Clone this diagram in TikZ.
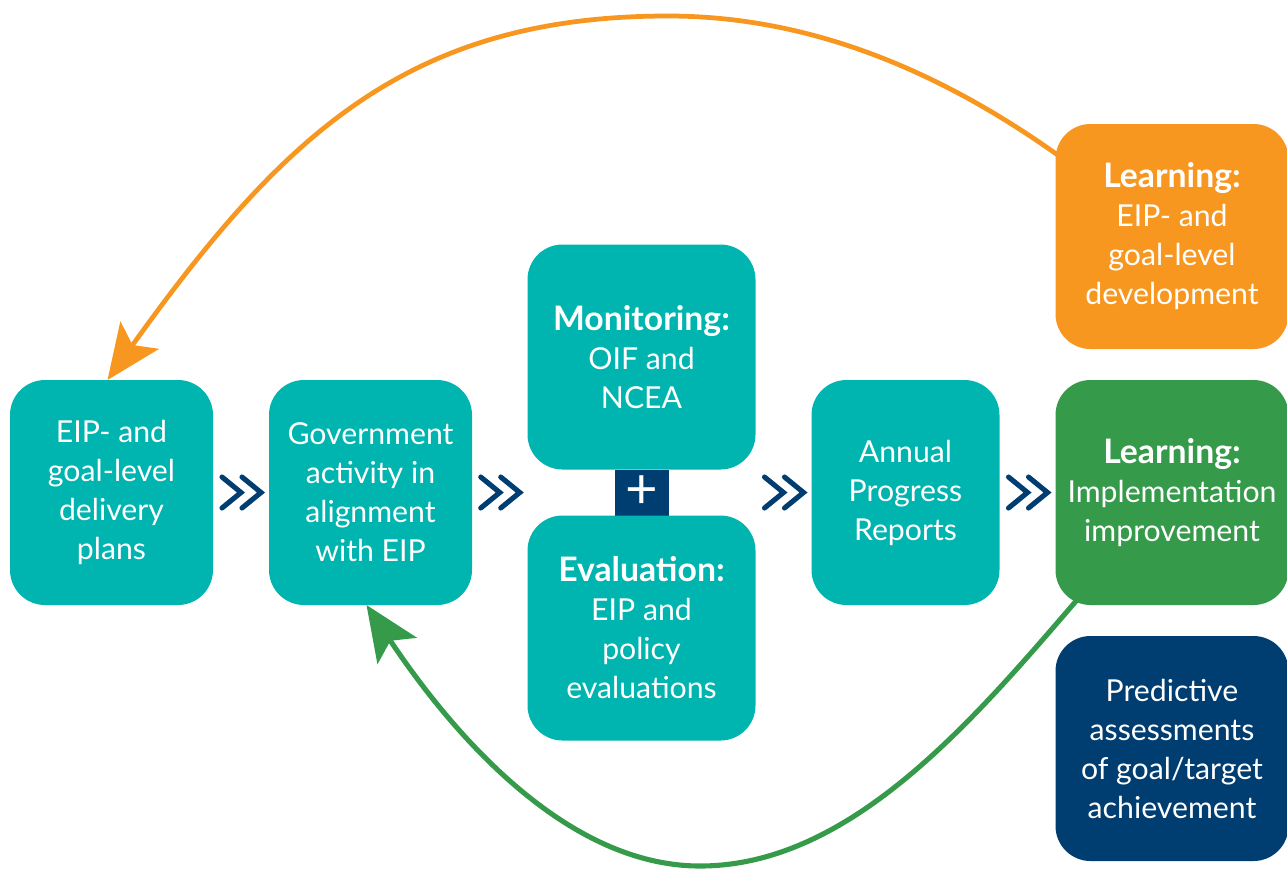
\documentclass[tikz,border=0pt]{standalone}
\usepackage{fontspec}
\setmainfont{Lato}
\usetikzlibrary{positioning,arrows.meta,calc,backgrounds}
\definecolor{eipteal}{RGB}{0,180,176}
\definecolor{eiporange}{RGB}{247,151,31}
\definecolor{eipgreen}{RGB}{53,155,74}
\definecolor{eipnavy}{RGB}{0,61,112}
\tikzset{
  chev/.style={draw=eipnavy, line width=1.45pt, line cap=round},
  dblchev/.pic={
    \draw[chev] (-0.19,0.155) -- (0,0) -- (-0.19,-0.155);
    \draw[chev] (0.01,0.155) -- (0.2,0) -- (0.01,-0.155);
  }
}
\newcommand{\hd}[1]{{\bfseries\fontsize{9.6}{11.1}\selectfont #1}}

\begin{document}
\begin{tikzpicture}[node distance=5.6mm and 5.6mm, every node/.style={font=\fontsize{8.6}{11.1}\selectfont, text=white}, box/.style={fill=eipteal, rounded corners=3.5mm, align=center, minimum height=22.5mm, minimum width=20.3mm, inner sep=0pt, outer sep=0pt}, plusbox/.style={fill=eipnavy, minimum width=5.4mm, minimum height=4.6mm, inner sep=0pt, outer sep=0pt, font=\fontsize{16}{16}\selectfont}, loopA/.style={draw=eiporange, line width=1.35pt, -{Stealth[length=5.5mm, width=4.7mm, inset=1.2mm]}}, loopB/.style={draw=eipgreen, line width=1.45pt, -{Stealth[length=5.5mm, width=4.7mm, inset=1.2mm]}}]
\useasboundingbox (0,0) rectangle (12.87,-8.68);
\node[box] (plans) at (1.115,-4.925) {EIP- and\\goal-level\\delivery\\plans};
\node[box, right=of plans] (gov) {Government\\activity in\\alignment\\with EIP};
\node[plusbox] (plus) at ([xshift=16.95mm]gov.east) {+};
\node[box, minimum width=22.8mm, above=0pt of plus] (mon) {\hd{Monitoring:}\\OIF and\\NCEA};
\node[box, minimum width=22.8mm, below=0pt of plus] (eval) {\hd{Evaluation:}\\EIP and\\policy\\evaluations};
\node[box, minimum width=18.8mm, anchor=west] (annual) at ([xshift=5.6mm]mon.east |- gov.east) {Annual\\Progress\\Reports};
\node[box, minimum width=23.3mm, fill=eipgreen, right=of annual] (learnimp) {\hd{Learning:}\\Implementation\\improvement};
\node[box, minimum width=23.3mm, fill=eiporange, above=3.1mm of learnimp] (learndev) {\hd{Learning:}\\EIP- and\\goal-level\\development};
\node[box, minimum width=23.3mm, fill=eipnavy, below=3.1mm of learnimp] (predict) {Predictive\\assessments\\of goal/target\\achievement};
% chevrons between the steps
\pic at ($(plans.east)!0.5!(gov.west)$) {dblchev};
\pic at ($(gov.east)!0.5!(mon.west |- gov)$) {dblchev};
\pic at ($(mon.east |- annual)!0.5!(annual.west)$) {dblchev};
\pic at ($(annual.east)!0.5!(learnimp.west)$) {dblchev};
% feedback loops
\coordinate (archtop) at (6.68,-0.16);
\coordinate (archbot) at (7.00,-8.66);
\begin{scope}[on background layer]
\draw[loopA] ([xshift=0.5mm,yshift=-3.3mm]learndev.north west) .. controls (9.28,-0.62) and (7.98,-0.16) .. (archtop) .. controls (4.08,-0.16) and (2.83,-1.35) .. ([xshift=-0.4mm]plans.north);
\draw[loopB] ([xshift=2.4mm,yshift=0.8mm]learnimp.south west) .. controls (9.72,-7.22) and (8.50,-8.66) .. (archbot) .. controls (5.50,-8.66) and (4.30,-7.00) .. ([xshift=-0.4mm]gov.south);
\end{scope}
\end{tikzpicture}
\end{document}
